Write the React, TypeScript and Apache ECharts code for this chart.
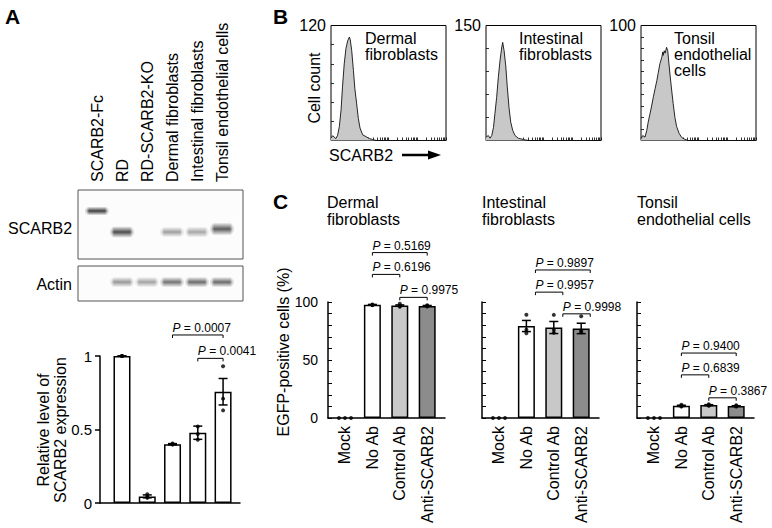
import React, { useEffect, useRef } from "react";
import * as echarts from "echarts";

const FONT = "'Liberation Sans', Arial, Helvetica, sans-serif";

// ---------- Panel A: western blot ----------
const laneLabels = ["SCARB2-Fc", "RD", "RD-SCARB2-KO", "Dermal fibroblasts", "Intestinal fibroblasts", "Tonsil endothelial cells"];
const scarb2Intensity = [0.85, 0.8, 0, 0.42, 0.38, 0.72];
const scarb2BandLevel = [0.696, 0.391, 0.391, 0.391, 0.391, 0.435];
const scarb2BandThickness = [0.13, 0.17, 0.15, 0.15, 0.16, 0.19];
const actinIntensity = [0, 0.45, 0.4, 0.62, 0.65, 0.66];
const actinBandLevel = [0.54, 0.54, 0.54, 0.54, 0.54, 0.54];
const actinBandThickness = [0.3, 0.3, 0.3, 0.3, 0.3, 0.3];

// ---------- Panel A: quantification ----------
const quantMean = [1.0, 0.045, 0.4, 0.478, 0.757];
const quantSem = [0, 0.01, 0.004, 0.045, 0.09];
const quantPoints = [
  [1, 1, 1],
  [0.06, 0.042, 0.035],
  [0.398, 0.4, 0.405],
  [0.52, 0.47, 0.43],
  [0.93, 0.71, 0.63],
];
const quantBracketFrom = [3, 4];
const quantBracketTo = [5, 5];
const quantBracketLevel = [1.143, 0.984];
const quantP = ["0.0007", "0.0041"];

// ---------- Panel B: flow cytometry histograms (x in log decades) ----------
const histTitles = ["Dermal\nfibroblasts", "Intestinal\nfibroblasts", "Tonsil\nendothelial\ncells"];
const histMax = [120, 150, 100];
const histTickStep = [20, 30, 10];
const histDermalX = [0, 0.06, 0.17, 0.23, 0.29, 0.35, 0.4, 0.46, 0.52, 0.58, 0.64, 0.67, 0.72, 0.78, 0.83, 0.89, 0.95, 1.01, 1.1, 1.22, 1.33, 1.45, 1.57, 4.0];
const histDermalCount = [2.5, 5, 2, 5.5, 14.5, 32, 56, 80, 96, 104, 108, 105, 94, 73, 54, 39, 23, 13, 6, 4, 2, 1, 0, 0];
const histIntestinalX = [0, 0.08, 0.14, 0.2, 0.26, 0.31, 0.37, 0.43, 0.49, 0.55, 0.58, 0.63, 0.69, 0.74, 0.8, 0.86, 0.93, 1.01, 1.12, 1.3, 1.47, 4.0];
const histIntestinalCount = [4.3, 6.5, 3, 6.5, 17, 35, 56, 83, 105, 122, 128, 117, 96, 70, 43, 24, 13, 6.5, 3, 1.3, 0, 0];
const histTonsilX = [0, 0.06, 0.14, 0.2, 0.25, 0.31, 0.37, 0.43, 0.49, 0.55, 0.6, 0.66, 0.72, 0.76, 0.77, 0.81, 0.84, 0.89, 0.93, 0.96, 1.01, 1.07, 1.12, 1.18, 1.24, 1.33, 1.42, 1.53, 1.64, 4.0];
const histTonsilCount = [1.5, 4.3, 3, 8.7, 16, 23, 30, 38, 45, 52, 59, 67, 72, 77, 74, 78, 76, 81, 78, 70, 57, 43, 32, 20, 12, 6, 2.5, 1, 0, 0];

// ---------- Panel C: infection ----------
const cTitles = ["Dermal\nfibroblasts", "Intestinal\nfibroblasts", "Tonsil\nendothelial cells"];
const treatments = ["Mock", "No Ab", "Control Ab", "Anti-SCARB2"];
const treatmentColors = ["#ffffff", "#ffffff", "#c8c8c8", "#8c8c8c"];
const mockJitter = [-0.22, 0, 0.22];

const dermalMean = [0, 97.6, 96.9, 96.6];
const dermalSem = [0, 0.3, 0.6, 0.4];
const dermalPoints = [[0, 0, 0], [97.9, 97.5, 97.3], [98.4, 96.5, 95.9], [97.2, 96.5, 96.1]];
const dermalBracketFrom = [2, 2, 3];
const dermalBracketTo = [4, 3, 4];
const dermalBracketLevel = [142.6, 123.8, 104];
const dermalP = ["0.5169", "0.6196", "0.9975"];

const intestinalMean = [0, 79.3, 78, 77.2];
const intestinalSem = [0, 4.8, 5.2, 4.5];
const intestinalPoints = [[0, 0, 0], [89, 76, 73], [88.9, 76, 73.5], [87.8, 75.5, 74]];
const intestinalBracketFrom = [2, 2, 3];
const intestinalBracketTo = [4, 3, 4];
const intestinalBracketLevel = [127.6, 108.5, 89.8];
const intestinalP = ["0.9897", "0.9957", "0.9998"];

const tonsilMean = [0, 10.5, 11.1, 10.3];
const tonsilSem = [0, 0.5, 0.4, 0.3];
const tonsilPoints = [[0, 0, 0], [11.4, 10.3, 9.8], [11.8, 11, 10.6], [10.9, 10.2, 9.9]];
const tonsilBracketFrom = [2, 2, 3];
const tonsilBracketTo = [4, 3, 4];
const tonsilBracketLevel = [56, 37.2, 17.4];
const tonsilP = ["0.9400", "0.6839", "0.3867"];

const BLACK = "#000";

function bracketSeries(axisIdx: number, from: number[], to: number[], level: number[], labels: string[], xShift: number) {
  return {
    type: "custom",
    xAxisIndex: axisIdx,
    yAxisIndex: axisIdx,
    clip: false,
    z: 10,
    encode: { x: [0, 1], y: 2 },
    data: from.map((f, i) => [f + xShift, to[i] + xShift, level[i]]),
    renderItem: (params: any, api: any) => {
      const p1 = api.coord([api.value(0), api.value(2)]);
      const p2 = api.coord([api.value(1), api.value(2)]);
      const t = 3;
      return {
        type: "group",
        children: [
          {
            type: "polyline",
            shape: { points: [[p1[0], p1[1] + t], [p1[0], p1[1]], [p2[0], p2[1]], [p2[0], p2[1] + t]] },
            style: { stroke: BLACK, lineWidth: 1, fill: "none" },
          },
          {
            type: "text",
            x: p1[0],
            y: p1[1] - 1,
            style: {
              text: "{i|P} = " + labels[params.dataIndex],
              rich: { i: { fontStyle: "italic", fontSize: 12, fontFamily: FONT, fill: BLACK } },
              fontSize: 12,
              fontFamily: FONT,
              fill: BLACK,
              align: "left",
              verticalAlign: "bottom",
              textAlign: "left",
              textVerticalAlign: "bottom",
            },
          },
        ],
      };
    },
  };
}

function errorSeries(axisIdx: number, mean: number[], sem: number[], xs: number[]) {
  return {
    type: "custom",
    xAxisIndex: axisIdx,
    yAxisIndex: axisIdx,
    clip: false,
    z: 5,
    encode: { x: 0, y: 1 },
    data: mean.map((m, i) => [xs[i], m, sem[i]]).filter((d) => d[1] > 0),
    renderItem: (params: any, api: any) => {
      const x = api.value(0), m = api.value(1), s = api.value(2);
      const top = api.coord([x, m + s]);
      const bot = api.coord([x, m - s]);
      const hw = 4.5;
      const st = { stroke: BLACK, lineWidth: 1.5 };
      return {
        type: "group",
        children: [
          { type: "line", shape: { x1: top[0], y1: top[1], x2: bot[0], y2: bot[1] }, style: st },
          { type: "line", shape: { x1: top[0] - hw, y1: top[1], x2: top[0] + hw, y2: top[1] }, style: st },
          { type: "line", shape: { x1: bot[0] - hw, y1: bot[1], x2: bot[0] + hw, y2: bot[1] }, style: st },
        ],
      };
    },
  };
}

function bandSeries(axisIdx: number, intensity: number[], level: number[], thick: number[]) {
  return {
    type: "custom",
    xAxisIndex: axisIdx,
    yAxisIndex: axisIdx,
    clip: true,
    encode: { x: 0, y: 1 },
    data: intensity.map((v, i) => [i + 1, level[i], v, thick[i]]),
    renderItem: (params: any, api: any) => {
      const a = api.value(2);
      if (!(a > 0)) return null;
      const c = api.coord([api.value(0), api.value(1)]);
      const sz = api.size([0.9, api.value(3)]);
      const w = sz[0], h = sz[1];
      const grad = new echarts.graphic.LinearGradient(0, 0, 0, 1, [
        { offset: 0, color: "rgba(30,30,30,0)" },
        { offset: 0.5, color: `rgba(30,30,30,${a})` },
        { offset: 1, color: "rgba(30,30,30,0)" },
      ]);
      const gradH = new echarts.graphic.LinearGradient(0, 0, 1, 0, [
        { offset: 0, color: "rgba(255,255,255,0.9)" },
        { offset: 0.15, color: "rgba(255,255,255,0)" },
        { offset: 0.85, color: "rgba(255,255,255,0)" },
        { offset: 1, color: "rgba(255,255,255,0.9)" },
      ]);
      return {
        type: "group",
        children: [
          { type: "rect", shape: { x: c[0] - w / 2, y: c[1] - h / 2, width: w, height: h, r: h / 3 }, style: { fill: grad } },
          { type: "rect", shape: { x: c[0] - w / 2, y: c[1] - h / 2, width: w, height: h }, style: { fill: gradH } },
        ],
      };
    },
  };
}

function logTicks() {
  const t: number[] = [];
  for (let d = 0; d < 4; d++) for (let k = 1; k <= 9; k++) t.push(d + Math.log10(k));
  t.push(4);
  return t;
}

function range(step: number, max: number) {
  const r: number[] = [];
  for (let v = 0; v <= max + 1e-9; v += step) r.push(+v.toFixed(6));
  return r;
}

function buildOption() {
  const axisLineStyle = { color: BLACK, width: 1.5 };
  const grid: any[] = [];
  const xAxis: any[] = [];
  const yAxis: any[] = [];
  const series: any[] = [];

  // 0: Panel A quantification
  grid.push({ left: 100, top: 356, width: 140, height: 147 });
  xAxis.push({
    gridIndex: 0, type: "value", min: 0.13, max: 5.67,
    axisLine: { show: true, onZero: false, lineStyle: axisLineStyle },
    axisTick: { show: false }, axisLabel: { show: false }, splitLine: { show: false },
  });
  yAxis.push({
    gridIndex: 0, type: "value", min: 0, max: 1, interval: 0.5,
    axisLine: { show: true, onZero: false, lineStyle: axisLineStyle },
    axisTick: { show: true, length: 5, lineStyle: axisLineStyle },
    axisLabel: { fontSize: 15, margin: 8, color: BLACK, fontFamily: FONT },
    splitLine: { show: false },
  });

  // 1: SCARB2 blot, 2: Actin blot
  grid.push({ left: 78, top: 190, width: 165, height: 69, show: true, borderColor: "#555", borderWidth: 1, backgroundColor: "#fcfcfc" });
  grid.push({ left: 78, top: 266, width: 165, height: 35, show: true, borderColor: "#555", borderWidth: 1, backgroundColor: "#fcfcfc" });
  xAxis.push({
    gridIndex: 1, type: "value", min: 0.24, max: 6.84, position: "top",
    axisLine: { show: false }, axisTick: { show: false }, splitLine: { show: false },
    axisLabel: {
      customValues: [1, 2, 3, 4, 5, 6],
      formatter: (v: number) => laneLabels[Math.round(v) - 1],
      rotate: 90, margin: 8, fontSize: 16, color: BLACK, fontFamily: FONT,
    },
  });
  xAxis.push({ gridIndex: 2, type: "value", min: 0.24, max: 6.84, show: false, splitLine: { show: false } });
  yAxis.push({ gridIndex: 1, type: "value", min: 0, max: 1, show: false, splitLine: { show: false } });
  yAxis.push({ gridIndex: 2, type: "value", min: 0, max: 1, show: false, splitLine: { show: false } });

  // 3-5: histograms
  const histLefts = [331, 486, 641];
  const histData = [
    [histDermalX, histDermalCount],
    [histIntestinalX, histIntestinalCount],
    [histTonsilX, histTonsilCount],
  ];
  histLefts.forEach((left, i) => {
    const gi = 3 + i;
    grid.push({ left, top: 25.5, width: 115, height: 115, show: true, borderColor: BLACK, borderWidth: 1 });
    xAxis.push({
      gridIndex: gi, type: "value", min: 0, max: 4,
      axisLine: { show: false },
      axisTick: { show: true, inside: true, length: 3, customValues: logTicks(), lineStyle: { color: BLACK, width: 0.8 } },
      axisLabel: { show: false }, splitLine: { show: false },
    });
    yAxis.push({
      gridIndex: gi, type: "value", min: 0, max: histMax[i], interval: histTickStep[i],
      axisLine: { show: false },
      axisTick: { show: true, inside: true, length: 3, customValues: range(histTickStep[i], histMax[i]), lineStyle: { color: BLACK, width: 0.8 } },
      axisLabel: { customValues: [histMax[i]], fontSize: 16, margin: 5, color: BLACK, fontFamily: FONT },
      splitLine: { show: false },
    });
    const [xs, cs] = histData[i];
    series.push({
      type: "line", xAxisIndex: gi, yAxisIndex: gi, showSymbol: false, symbol: "none",
      data: xs.map((x, k) => [x, cs[k]]),
      lineStyle: { color: "#111", width: 0.9 },
      areaStyle: { color: "#c8c8c8", opacity: 1 },
    });
  });

  // 6-8: Panel C
  const cLefts = [328, 482, 637];
  const cPanels = [
    { mean: dermalMean, sem: dermalSem, pts: dermalPoints, from: dermalBracketFrom, to: dermalBracketTo, lvl: dermalBracketLevel, p: dermalP, shift: 0 },
    { mean: intestinalMean, sem: intestinalSem, pts: intestinalPoints, from: intestinalBracketFrom, to: intestinalBracketTo, lvl: intestinalBracketLevel, p: intestinalP, shift: 0.33 },
    { mean: tonsilMean, sem: tonsilSem, pts: tonsilPoints, from: tonsilBracketFrom, to: tonsilBracketTo, lvl: tonsilBracketLevel, p: tonsilP, shift: 0 },
  ];
  cLefts.forEach((left, i) => {
    const gi = 6 + i;
    const P = cPanels[i];
    grid.push({ left, top: 302, width: 117, height: 116 });
    xAxis.push({
      gridIndex: gi, type: "value", min: 0.38, max: 4.65,
      axisLine: { show: true, onZero: false, lineStyle: axisLineStyle },
      axisTick: { show: false }, splitLine: { show: false },
      axisLabel: {
        customValues: [1, 2, 3, 4],
        formatter: (v: number) => treatments[Math.round(v) - 1],
        rotate: 90, margin: 8, fontSize: 16, color: BLACK, fontFamily: FONT,
      },
    });
    yAxis.push({
      gridIndex: gi, type: "value", min: 0, max: 100, interval: 10,
      axisLine: { show: true, onZero: false, lineStyle: axisLineStyle },
      axisTick: { show: true, inside: true, length: 4, customValues: range(10, 100), lineStyle: { color: BLACK, width: 1 } },
      axisLabel: i === 0
        ? { customValues: [0, 50, 100], fontSize: 14, margin: 10, color: BLACK, fontFamily: FONT }
        : { show: false },
      splitLine: { show: false },
    });
    series.push({
      type: "bar", xAxisIndex: gi, yAxisIndex: gi, barWidth: 17,
      data: P.mean.map((m, k) => ({ value: [k + 1, m], itemStyle: { color: treatmentColors[k] } })).filter((d) => d.value[1] > 0),
      itemStyle: { borderColor: BLACK, borderWidth: 1.5 },
    });
    series.push(errorSeries(gi, P.mean, P.sem, [1, 2, 3, 4]));
    const pts: number[][] = [];
    P.pts.forEach((arr, k) => arr.forEach((v, j) => pts.push([k + 1 + (k === 0 ? mockJitter[j] : 0), v])));
    series.push({
      type: "scatter", xAxisIndex: gi, yAxisIndex: gi, symbolSize: 4, z: 6,
      itemStyle: { color: BLACK }, data: pts, clip: false,
    });
    series.push(bracketSeries(gi, P.from, P.to, P.lvl, P.p, P.shift));
  });

  // Panel A series
  series.push({
    type: "bar", xAxisIndex: 0, yAxisIndex: 0, barWidth: 17,
    data: quantMean.map((m, k) => [k + 1, m]),
    itemStyle: { color: "#fff", borderColor: BLACK, borderWidth: 1.5 },
  });
  series.push(errorSeries(0, quantMean, quantSem, [1, 2, 3, 4, 5]));
  const qpts: number[][] = [];
  quantPoints.forEach((arr, k) => arr.forEach((v) => qpts.push([k + 1, v])));
  series.push({
    type: "scatter", xAxisIndex: 0, yAxisIndex: 0, symbolSize: 4, z: 6,
    itemStyle: { color: BLACK }, data: qpts, clip: false,
  });
  series.push(bracketSeries(0, quantBracketFrom, quantBracketTo, quantBracketLevel, quantP, 0));

  // Blot bands
  series.push(bandSeries(1, scarb2Intensity, scarb2BandLevel, scarb2BandThickness));
  series.push(bandSeries(2, actinIntensity, actinBandLevel, actinBandThickness));

  const T = (text: string, x: number, y: number, st: any = {}, extra: any = {}) => ({
    type: "text", x, y, ...extra,
    style: {
      text, fontSize: 16, fontFamily: FONT, fill: BLACK,
      align: st.align || "left", textAlign: st.align || "left",
      verticalAlign: st.va || "middle", textVerticalAlign: st.va || "middle",
      ...st,
    },
  });

  const graphic: any[] = [
    T("A", 5, 16.5, { fontSize: 21, fontWeight: "bold" }),
    T("B", 273, 16, { fontSize: 21, fontWeight: "bold" }),
    T("C", 273, 201, { fontSize: 21, fontWeight: "bold" }),
    T("SCARB2", 8, 228),
    T("Actin", 72, 284, { align: "right" }),
    T("Relative level of\nSCARB2 expression", 52, 430, { align: "center", lineHeight: 17 }, { rotation: Math.PI / 2 }),
    T("Cell count", 314, 88, { align: "center" }, { rotation: Math.PI / 2 }),
    T("SCARB2", 329, 155),
    { type: "line", shape: { x1: 402, y1: 155, x2: 430, y2: 155 }, style: { stroke: BLACK, lineWidth: 2.5 } },
    { type: "polygon", shape: { points: [[428, 150.5], [441, 155], [428, 159.5]] }, style: { fill: BLACK } },
    T(histTitles[0], 365, 30, { va: "top", lineHeight: 16 }),
    T(histTitles[1], 519, 30, { va: "top", lineHeight: 16 }),
    T(histTitles[2], 674, 30, { va: "top", lineHeight: 16 }),
    T(cTitles[0], 327, 193.5, { va: "top", lineHeight: 17 }),
    T(cTitles[1], 482, 193.5, { va: "top", lineHeight: 17 }),
    T(cTitles[2], 637, 193.5, { va: "top", lineHeight: 17 }),
    T("EGFP-positive cells (%)", 283, 352, { align: "center" }, { rotation: Math.PI / 2 }),
  ];

  return {
    animation: false,
    backgroundColor: "#ffffff",
    textStyle: { fontFamily: FONT },
    grid, xAxis, yAxis, series, graphic,
  };
}

export default function App() {
  const ref = useRef<HTMLDivElement>(null);
  useEffect(() => {
    document.body.style.margin = "0";
    const chart = echarts.init(ref.current!, null, { renderer: "svg" });
    chart.setOption(buildOption() as any);
    return () => chart.dispose();
  }, []);
  return <div ref={ref} style={{ width: 772, height: 528, background: "#fff" }} />;
}
